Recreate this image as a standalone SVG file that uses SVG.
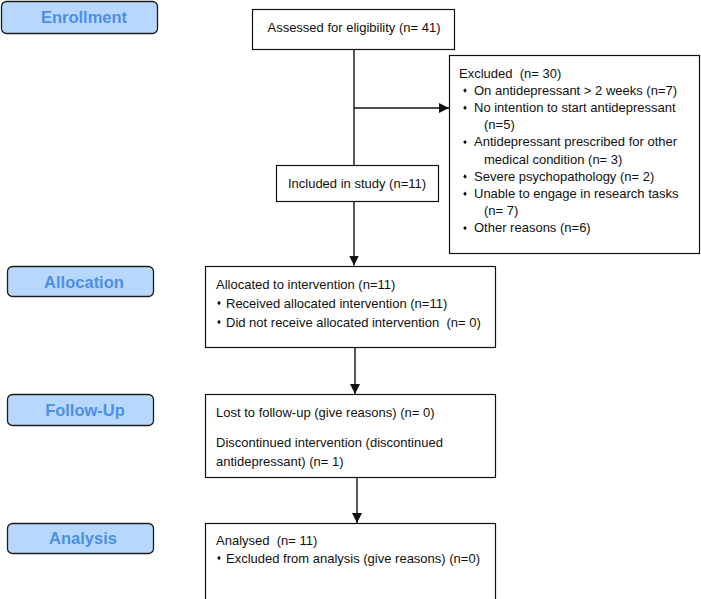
<svg xmlns="http://www.w3.org/2000/svg" width="701" height="599" viewBox="0 0 701 599">
<style>
.stage rect{fill:#b7d8fc;stroke:#1c1c1c;stroke-width:1.3}
.stage text{font-family:"Liberation Sans",Arial,sans-serif;font-weight:bold;font-size:16.5px;fill:#4d8fe3;text-anchor:middle}
.box rect{fill:#fff;stroke:#111;stroke-width:1.2}
.box text{font-family:"Liberation Sans",Arial,sans-serif;font-size:13px;fill:#111;white-space:pre}
.c{text-anchor:middle}
.conn line{stroke:#111;stroke-width:1.4;fill:none}
.bul{fill:#111}
</style>
<defs>
<marker id="ah" viewBox="0 0 10 10" refX="10" refY="5" markerWidth="10" markerHeight="10" markerUnits="userSpaceOnUse" orient="auto">
<path d="M0,0 L10,5 L0,10 z" fill="#111"/>
</marker>
<path id="b" class="bul" d="M0,-2.2 L1.8,0 L0,2.2 L-1.8,0 z"/>
</defs>
<rect width="701" height="599" fill="#fff"/>

<g id="stage-enrollment" class="stage"><rect x="1.5" y="1.5" width="156" height="32" rx="5"/><text x="84" y="23">Enrollment</text></g>
<g id="stage-allocation" class="stage"><rect x="7.5" y="266.5" width="146" height="30" rx="5"/><text x="84" y="288">Allocation</text></g>
<g id="stage-followup" class="stage"><rect x="7.5" y="394.5" width="146" height="31" rx="5"/><text x="85" y="416">Follow-Up</text></g>
<g id="stage-analysis" class="stage"><rect x="7.5" y="523.5" width="146" height="30" rx="5"/><text x="83" y="544">Analysis</text></g>

<g id="assessed" class="box"><rect x="252.5" y="9.5" width="202" height="40"/><text class="c" x="354" y="32">Assessed for eligibility (n= 41)</text></g>

<g id="excluded" class="box"><rect x="449.5" y="55.5" width="250" height="198"/>
<text x="459" y="77.5" xml:space="preserve">Excluded  (n= 30)</text>
<use href="#b" x="465" y="90.5"/><text x="474" y="94.7">On antidepressant &gt; 2 weeks (n=7)</text>
<use href="#b" x="465" y="107.7"/><text x="474" y="111.9">No intention to start antidepressant</text>
<text x="484" y="129.1">(n=5)</text>
<use href="#b" x="465" y="142.1"/><text x="474" y="146.3">Antidepressant prescribed for other</text>
<text x="484" y="163.5">medical condition (n= 3)</text>
<use href="#b" x="465" y="176.5"/><text x="474" y="180.7">Severe psychopathology (n= 2)</text>
<use href="#b" x="465" y="193.7"/><text x="474" y="197.9">Unable to engage in research tasks</text>
<text x="484" y="215.1">(n= 7)</text>
<use href="#b" x="465" y="228.1"/><text x="474" y="232.3">Other reasons (n=6)</text>
</g>

<g id="included" class="box"><rect x="276.5" y="165.5" width="162" height="36"/><text class="c" x="357" y="188">Included in study (n=11)</text></g>

<g id="allocated" class="box"><rect x="205.5" y="266.5" width="290" height="81"/>
<text x="216" y="288.5">Allocated to intervention (n=11)</text>
<use href="#b" x="219" y="303"/><text x="226" y="307.5">Received allocated intervention (n=11)</text>
<use href="#b" x="219" y="322"/><text x="226" y="326.5" xml:space="preserve">Did not receive allocated intervention  (n= 0)</text>
</g>

<g id="followup" class="box"><rect x="205.5" y="394.5" width="290" height="83"/>
<text x="216" y="416.5">Lost to follow-up (give reasons) (n= 0)</text>
<text x="216" y="446.5">Discontinued intervention (discontinued</text>
<text x="216" y="465.5">antidepressant) (n= 1)</text>
</g>

<g id="analysed" class="box"><rect x="205.5" y="523.5" width="290" height="80"/>
<text x="216" y="544.5" xml:space="preserve">Analysed  (n= 11)</text>
<use href="#b" x="219" y="558"/><text x="226" y="562.5">Excluded from analysis (give reasons) (n=0)</text>
</g>

<g id="connectors" class="conn">
<line x1="354" y1="49.5" x2="354" y2="165.5"/>
<line x1="354" y1="108" x2="449" y2="108" marker-end="url(#ah)"/>
<line x1="354" y1="201.5" x2="354" y2="265.5" marker-end="url(#ah)"/>
<line x1="355" y1="347.5" x2="355" y2="394" marker-end="url(#ah)"/>
<line x1="357" y1="477.5" x2="357" y2="523" marker-end="url(#ah)"/>
</g>
</svg>
